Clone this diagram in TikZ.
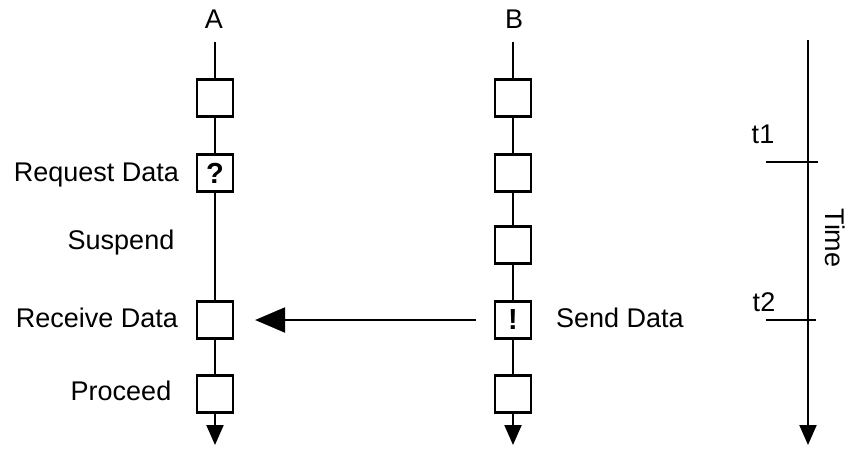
\documentclass[tikz,border=0pt]{standalone}
\usepackage{fontspec}
\setmainfont{Liberation Sans}
\usetikzlibrary{arrows.meta}
\begin{document}
\begin{tikzpicture}[x=1pt,y=-1pt,
  line width=2.2pt,
  every node/.style={font=\fontsize{27}{32}\selectfont},
  evt/.style={draw, rectangle, minimum width=36pt, minimum height=37pt, inner sep=0pt},
  sym/.style={font=\fontsize{29}{32}\selectfont\bfseries},
  flow/.style={-{Triangle[length=20pt,width=17pt]}},
  msg/.style={-{Triangle[length=30pt,width=25pt]}},
  lbl/.style={inner sep=0pt}]
\useasboundingbox (0,0) rectangle (849,450);

% process A
\node[lbl] (A) at (214,19) {A};
\coordinate (atop) at (215,42);
\coordinate (aend) at (215,445);
\node[evt] (a1) at (215,98) {};
\node[evt, sym] (a2) at (215,173) {?};
\node[evt] (a3) at (215,320) {};
\node[evt] (a4) at (215,394) {};
\draw (atop) -- (a1);
\draw (a1) -- (a2);
\draw (a2) -- (a3);
\draw (a3) -- (a4);
\draw[flow] (a4) -- (aend);

% process B
\node[lbl] (B) at (514,19) {B};
\coordinate (btop) at (513,42);
\coordinate (bend) at (513,445);
\node[evt] (b1) at (513,98) {};
\node[evt] (b2) at (513,173) {};
\node[evt] (b3) at (513,245) {};
\node[evt, sym] (b4) at (513,320) {!};
\node[evt] (b5) at (513,394) {};
\draw (btop) -- (b1);
\draw (b1) -- (b2);
\draw (b2) -- (b3);
\draw (b3) -- (b4);
\draw (b4) -- (b5);
\draw[flow] (b5) -- (bend);

% message from B to A
\draw[msg, shorten <=18pt, shorten >=21pt] (b4.west) -- (a3.east |- b4.west);

% event labels
\node[lbl, anchor=east] (lreq) at (180,175) {Request Data};
\node[lbl] (lsus) at (121,243) {Suspend};
\node[lbl, anchor=east] (lrec) at (179,318) {Receive Data};
\node[lbl] (lpro) at (121,391) {Proceed};
\node[lbl, anchor=west] (lsnd) at (555,318) {Send Data};

% time axis
\coordinate (ttop) at (808,40);
\coordinate (tend) at (808,445);
\draw[flow] (ttop) -- (tend);
\coordinate (t1l) at (766,162);
\coordinate (t1r) at (818,162);
\coordinate (t2l) at (766,320);
\coordinate (t2r) at (816,320);
\draw (t1l) -- (t1r);
\draw (t2l) -- (t2r);
\node[lbl] (t1) at (763,134) {t1};
\node[lbl] (t2) at (764,302) {t2};
\node[lbl, rotate=-90] (time) at (835,238) {Time};
\end{tikzpicture}
\end{document}
